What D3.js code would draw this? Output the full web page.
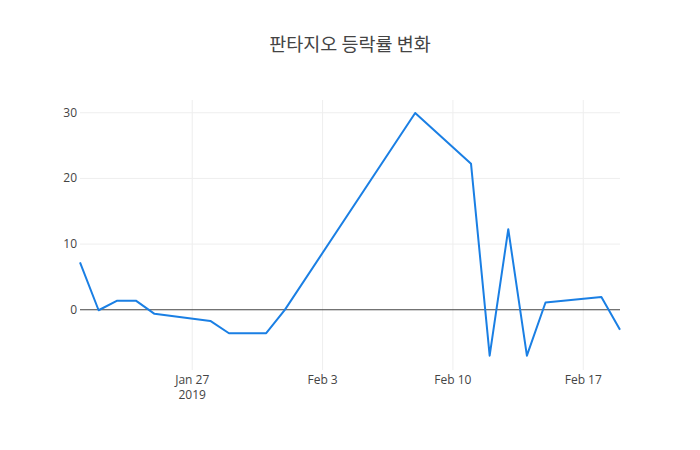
<!DOCTYPE html>
<html>
<head>
<meta charset="utf-8">
<script src="https://cdn.jsdelivr.net/npm/d3@7/dist/d3.min.js"></script>
<style>
  body { margin: 0; background: #fff; }
  svg { display: block; }
</style>
</head>
<body>
<div id="chart"></div>
<script>
var chartTitle = '판타지오 등락률 변화';
var tradeDates = ['2019-01-21', '2019-01-22', '2019-01-23', '2019-01-24', '2019-01-25',
  '2019-01-28', '2019-01-29', '2019-01-30', '2019-01-31', '2019-02-01',
  '2019-02-08', '2019-02-11', '2019-02-12', '2019-02-13', '2019-02-14',
  '2019-02-15', '2019-02-18', '2019-02-19'];
var changeRates = [7.15, -0.15, 1.31, 1.31, -0.7,
  -1.78, -3.65, -3.65, -3.65, -0.1,
  29.9, 22.15, -7.07, 12.2, -7.07,
  1.03, 1.87, -3.13];
var yTicks = [0, 10, 20, 30];

var width = 700, height = 450;
var margin = {top: 100, right: 80, bottom: 80, left: 80};
var plotW = width - margin.left - margin.right;
var plotH = height - margin.top - margin.bottom;
var lineColor = '#1a7fe4';
var tickColor = '#444';
var gridColor = '#eee';

var parseDate = d3.timeParse('%Y-%m-%d');
var points = tradeDates.map(function (d, i) {
  return {date: parseDate(d), value: changeRates[i]};
});

var svg = d3.select('#chart').append('svg')
  .attr('width', width)
  .attr('height', height);

var g = svg.append('g')
  .attr('transform', 'translate(' + margin.left + ',' + margin.top + ')');

var x = d3.scaleTime()
  .domain(d3.extent(points, function (d) { return d.date; }))
  .range([0, plotW]);

var y = d3.scaleLinear()
  .domain([-9.25, 31.87])
  .range([plotH, 0]);

// vertical grid + date labels
var xAxis = d3.axisBottom(x)
  .ticks(d3.timeSunday.every(1))
  .tickSize(-plotH)
  .tickPadding(0)
  .tickFormat(d3.timeFormat('%b %-d'));

var xg = g.append('g')
  .attr('transform', 'translate(0,' + plotH + ')')
  .call(xAxis);
xg.select('.domain').remove();
xg.selectAll('.tick line').attr('stroke', gridColor);
xg.selectAll('.tick text')
  .attr('y', 5)
  .attr('fill', tickColor)
  .style('font-family', '"Open Sans", sans-serif')
  .style('font-size', '12px');
xg.selectAll('.tick text')
  .filter(function (d, i) { return i === 0; })
  .each(function (d) {
    var t = d3.select(this);
    t.append('tspan').attr('x', 0).attr('dy', '1.3em').text(d3.timeFormat('%Y')(d));
  });

// horizontal grid + value labels
var yAxis = d3.axisLeft(y)
  .tickValues(yTicks)
  .tickSize(-plotW)
  .tickPadding(3)
  .tickFormat(d3.format('d'));

var yg = g.append('g').call(yAxis);
yg.select('.domain').remove();
yg.selectAll('.tick line').attr('stroke', function (d) { return d === 0 ? tickColor : gridColor; });
yg.selectAll('.tick text')
  .attr('fill', tickColor)
  .style('font-family', '"Open Sans", sans-serif')
  .style('font-size', '12px');

var line = d3.line()
  .x(function (d) { return x(d.date); })
  .y(function (d) { return y(d.value); });

g.append('path')
  .datum(points)
  .attr('d', line)
  .attr('fill', 'none')
  .attr('stroke', lineColor)
  .attr('stroke-width', 2)
  .attr('stroke-linejoin', 'round');

svg.append('text')
  .attr('x', width / 2)
  .attr('y', 51)
  .attr('text-anchor', 'middle')
  .attr('fill', tickColor)
  .style('font-family', '"Noto Sans CJK KR", "Open Sans", sans-serif')
  .style('font-size', '18.5px')
  .text(chartTitle);
</script>
</body>
</html>
